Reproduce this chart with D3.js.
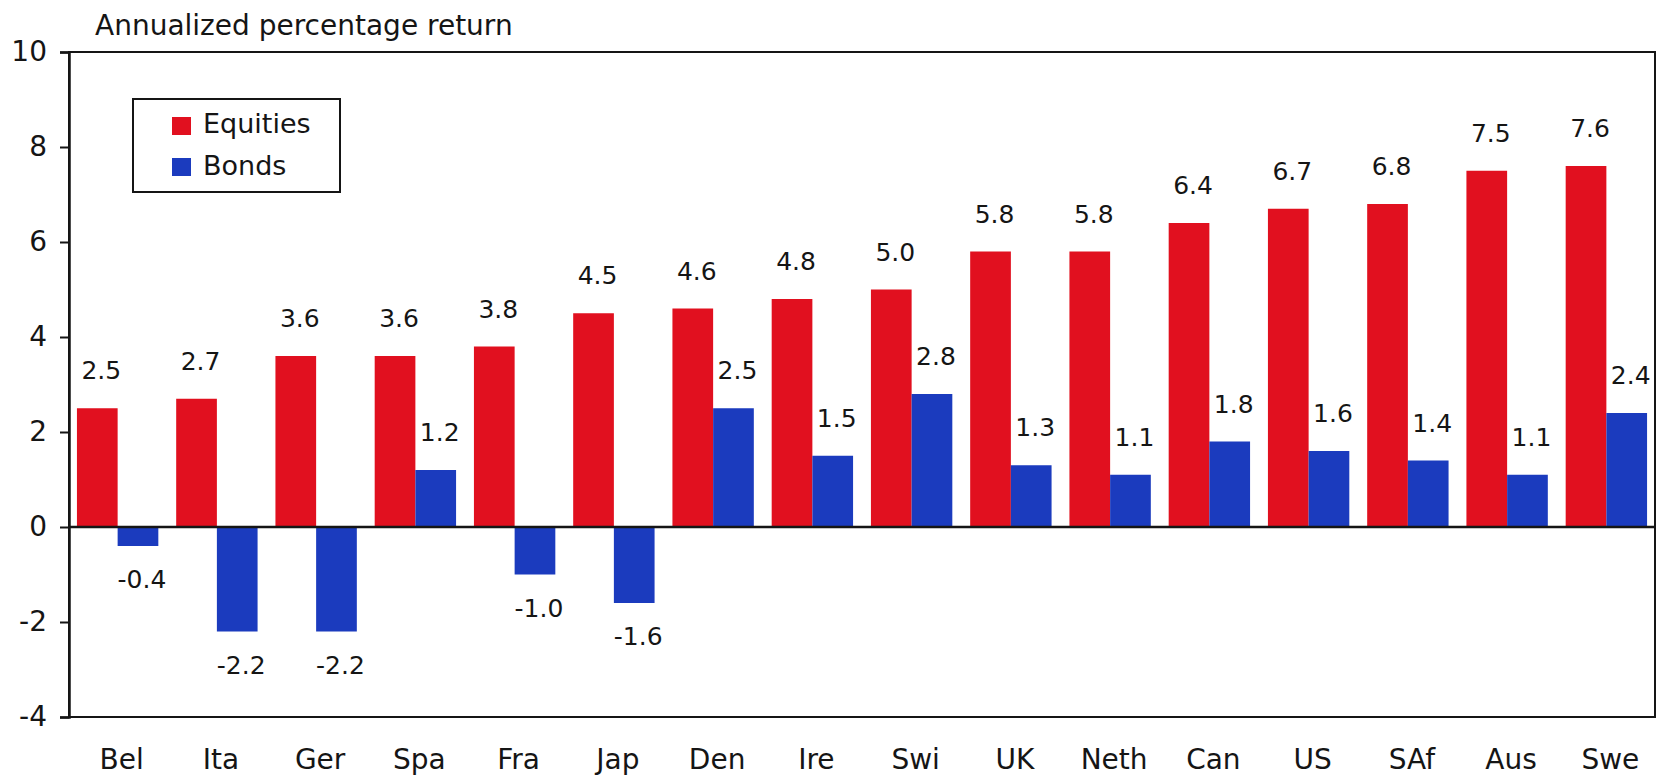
<!DOCTYPE html>
<html>
<head>
<meta charset="utf-8">
<script src="https://cdn.jsdelivr.net/npm/d3@7"></script>
<style>
    body { margin: 0; background: white; }
    svg { display: block; font-family: "DejaVu Sans", sans-serif; }
</style>
</head>
<body>
<div id="chart"></div>
<script>
// Data
const countries = ['Bel','Ita','Ger','Spa','Fra','Jap','Den','Ire','Swi','UK','Neth','Can','US','SAf','Aus','Swe'];
const equities = [2.5, 2.7, 3.6, 3.6, 3.8, 4.5, 4.6, 4.8, 5.0, 5.8, 5.8, 6.4, 6.7, 6.8, 7.5, 7.6];
const bonds = [-0.4, -2.2, -2.2, 1.2, -1.0, -1.6, 2.5, 1.5, 2.8, 1.3, 1.1, 1.8, 1.6, 1.4, 1.1, 2.4];
const seriesNames = ['Equities', 'Bonds'];
const yTicks = [-4, -2, 0, 2, 4, 6, 8, 10];

const width = 1661, height = 777;
const plotLeft = 69, plotRight = 1655, plotTop = 52, plotBottom = 717;
const colors = { Equities: '#e1101f', Bonds: '#1b3bbe' };
const ink = '#151515';

const svg = d3.select('#chart')
    .append('svg')
        .attr('width', width)
        .attr('height', height);

const y = d3.scaleLinear()
    .domain([-4, 10])
    .range([plotBottom, plotTop]);

const x = d3.scaleBand()
    .domain(countries)
    .range([plotLeft, plotRight])
    .paddingInner(0.18)
    .paddingOuter(0.08);

const inner = d3.scaleBand()
    .domain(seriesNames)
    .range([0, x.bandwidth()]);

// frame
svg.append('rect')
    .attr('x', plotLeft)
    .attr('y', plotTop)
    .attr('width', plotRight - plotLeft)
    .attr('height', plotBottom - plotTop)
    .attr('fill', 'none')
    .attr('stroke', ink)
    .attr('stroke-width', 2);

// bars
const rows = countries.map((c, i) => ({ country: c, Equities: equities[i], Bonds: bonds[i] }));

const groups = svg.selectAll('g.group')
    .data(rows)
    .enter()
    .append('g')
        .attr('class', 'group')
        .attr('transform', d => `translate(${x(d.country)},0)`);

groups.selectAll('rect')
    .data(d => seriesNames.map(s => ({ key: s, value: d[s] })))
    .enter()
    .append('rect')
        .attr('x', d => inner(d.key))
        .attr('y', d => y(Math.max(0, d.value)))
        .attr('width', inner.bandwidth())
        .attr('height', d => Math.abs(y(d.value) - y(0)))
        .attr('fill', d => colors[d.key]);

groups.selectAll('text.value')
    .data(d => seriesNames.map(s => ({ key: s, value: d[s] })))
    .enter()
    .append('text')
        .attr('class', 'value')
        .attr('x', d => inner(d.key) + inner.bandwidth() / 2 + 4)
        .attr('y', d => d.value >= 0 ? y(d.value) - 29 : y(d.value) + 42)
        .attr('text-anchor', 'middle')
        .style('font-size', '25px')
        .style('fill', ink)
        .text(d => d3.format('.1f')(d.value).replace('−', '-'));

// zero line
svg.append('line')
    .attr('x1', plotLeft)
    .attr('x2', plotRight)
    .attr('y1', y(0))
    .attr('y2', y(0))
    .attr('stroke', ink)
    .attr('stroke-width', 2.5);

// y axis
const yAxis = svg.append('g')
    .attr('transform', `translate(${plotLeft},0)`)
    .call(d3.axisLeft(y).tickValues(yTicks).tickSize(9).tickPadding(13).tickFormat(d => String(d)));
yAxis.select('.domain').attr('stroke', ink).attr('stroke-width', 2.5);
yAxis.selectAll('.tick line').attr('stroke', ink).attr('stroke-width', 2);
yAxis.selectAll('.tick text')
    .style('font-size', '28px')
    .style('font-family', '"DejaVu Sans", sans-serif')
    .style('fill', ink);

// x axis labels
const xAxis = svg.append('g')
    .attr('transform', `translate(4,${plotBottom})`)
    .call(d3.axisBottom(x).tickSize(0).tickPadding(32));
xAxis.select('.domain').remove();
xAxis.selectAll('.tick text')
    .style('font-size', '28px')
    .style('font-family', '"DejaVu Sans", sans-serif')
    .style('fill', ink);

// title
svg.append('text')
    .attr('x', 95)
    .attr('y', 35)
    .style('font-size', '28px')
    .style('fill', ink)
    .text('Annualized percentage return');

// legend
const legend = svg.append('g')
    .attr('transform', 'translate(133,99)');

legend.append('rect')
    .attr('width', 207)
    .attr('height', 93)
    .attr('fill', 'white')
    .attr('stroke', ink)
    .attr('stroke-width', 2);

legend.selectAll('rect.swatch')
    .data(seriesNames)
    .enter()
    .append('rect')
        .attr('class', 'swatch')
        .attr('x', 39)
        .attr('y', (d, i) => 18 + i * 41)
        .attr('width', 19)
        .attr('height', 18)
        .attr('fill', d => colors[d]);

legend.selectAll('text.label')
    .data(seriesNames)
    .enter()
    .append('text')
        .attr('class', 'label')
        .attr('x', 70)
        .attr('y', (d, i) => 34 + i * 42)
        .style('font-size', '27px')
        .style('fill', ink)
        .text(d => d);
</script>
</body>
</html>
